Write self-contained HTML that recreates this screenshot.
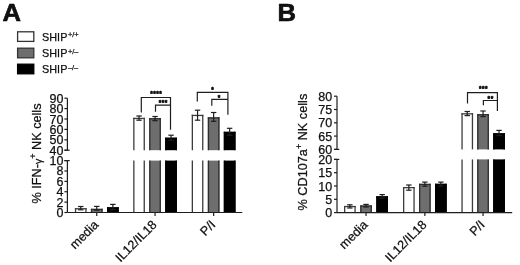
<!DOCTYPE html>
<html><head><meta charset="utf-8"><title>SHIP NK cells figure</title>
<style>
html,body{margin:0;padding:0;background:#fff;}
body{width:520px;height:265px;overflow:hidden;}
svg{display:block;}
svg text{font-family:"Liberation Sans", Arial, sans-serif;fill:#111;stroke:#111;stroke-width:0.25px;}
</style></head>
<body>
<svg width="520" height="265" viewBox="0 0 520 265">
<rect x="0" y="0" width="520" height="265" fill="#fff"/>
<text transform="translate(2.6,20.8) scale(1.05,1)" font-size="24.4" font-weight="bold" style="stroke:#000;stroke-width:0.6px;stroke-linejoin:round">A</text>
<text transform="translate(277.6,20.8) scale(1.05,1)" font-size="24.4" font-weight="bold" style="stroke:#000;stroke-width:0.6px;stroke-linejoin:round">B</text>
<rect x="17.6" y="31.8" width="16.2" height="9.6" fill="#ffffff" stroke="#333" stroke-width="1.3"/>
<text x="41.9" y="40.9" font-size="10.8" letter-spacing="0.1">SHIP<tspan font-size="7.4" dx="0.4" dy="-3.6" letter-spacing="0">+/+</tspan></text>
<rect x="17.6" y="48.2" width="16.2" height="9.6" fill="#6e6e6e" stroke="#333" stroke-width="1.3"/>
<text x="41.9" y="57.3" font-size="10.8" letter-spacing="0.1">SHIP<tspan font-size="7.4" dx="0.4" dy="-3.6" letter-spacing="0">+/&#8211;</tspan></text>
<rect x="17.6" y="64.2" width="16.2" height="9.6" fill="#000000" stroke="#000" stroke-width="1.3"/>
<text x="41.9" y="73.3" font-size="10.8" letter-spacing="0.1">SHIP<tspan font-size="7.4" dx="0.4" dy="-3.6" letter-spacing="0">&#8211;/&#8211;</tspan></text>
<line x1="67.4" y1="98.2" x2="67.4" y2="150.2" stroke="#1e1e1e" stroke-width="1.2"/>
<line x1="67.4" y1="160.6" x2="67.4" y2="212.5" stroke="#1e1e1e" stroke-width="1.2"/>
<line x1="64.4" y1="98.2" x2="67.4" y2="98.2" stroke="#1e1e1e" stroke-width="1.2"/>
<text x="63.4" y="102.7" font-size="12.5" text-anchor="end">90</text>
<line x1="64.4" y1="108.6" x2="67.4" y2="108.6" stroke="#1e1e1e" stroke-width="1.2"/>
<text x="63.4" y="113.1" font-size="12.5" text-anchor="end">80</text>
<line x1="64.4" y1="119" x2="67.4" y2="119" stroke="#1e1e1e" stroke-width="1.2"/>
<text x="63.4" y="123.5" font-size="12.5" text-anchor="end">70</text>
<line x1="64.4" y1="129.4" x2="67.4" y2="129.4" stroke="#1e1e1e" stroke-width="1.2"/>
<text x="63.4" y="133.9" font-size="12.5" text-anchor="end">60</text>
<line x1="64.4" y1="139.8" x2="67.4" y2="139.8" stroke="#1e1e1e" stroke-width="1.2"/>
<text x="63.4" y="144.3" font-size="12.5" text-anchor="end">50</text>
<line x1="64.4" y1="150.2" x2="67.4" y2="150.2" stroke="#1e1e1e" stroke-width="1.2"/>
<text x="63.4" y="154.7" font-size="12.5" text-anchor="end">40</text>
<line x1="64.4" y1="160.6" x2="67.4" y2="160.6" stroke="#1e1e1e" stroke-width="1.2"/>
<text x="63.4" y="165.1" font-size="12.5" text-anchor="end">10</text>
<line x1="64.4" y1="170.98" x2="67.4" y2="170.98" stroke="#1e1e1e" stroke-width="1.2"/>
<text x="63.4" y="175.48" font-size="12.5" text-anchor="end">8</text>
<line x1="64.4" y1="181.36" x2="67.4" y2="181.36" stroke="#1e1e1e" stroke-width="1.2"/>
<text x="63.4" y="185.86" font-size="12.5" text-anchor="end">6</text>
<line x1="64.4" y1="191.74" x2="67.4" y2="191.74" stroke="#1e1e1e" stroke-width="1.2"/>
<text x="63.4" y="196.24" font-size="12.5" text-anchor="end">4</text>
<line x1="64.4" y1="202.12" x2="67.4" y2="202.12" stroke="#1e1e1e" stroke-width="1.2"/>
<text x="63.4" y="206.62" font-size="12.5" text-anchor="end">2</text>
<line x1="64.4" y1="212.5" x2="67.4" y2="212.5" stroke="#1e1e1e" stroke-width="1.2"/>
<text x="63.4" y="217" font-size="12.5" text-anchor="end">0</text>
<line x1="64.4" y1="150.2" x2="69.7" y2="150.2" stroke="#1e1e1e" stroke-width="1.2"/>
<line x1="64.4" y1="160.6" x2="69.7" y2="160.6" stroke="#1e1e1e" stroke-width="1.2"/>
<rect x="74.9" y="208.1" width="11.7" height="4.4" fill="#ffffff"/>
<line x1="75.55" y1="208.1" x2="75.55" y2="212.5" stroke="#3c3c3c" stroke-width="1.3"/>
<line x1="85.95" y1="208.1" x2="85.95" y2="212.5" stroke="#3c3c3c" stroke-width="1.3"/>
<line x1="74.9" y1="208.75" x2="86.6" y2="208.75" stroke="#3c3c3c" stroke-width="1.3"/>
<rect x="90.9" y="208.8" width="11.7" height="3.7" fill="#6e6e6e"/>
<line x1="91.55" y1="208.8" x2="91.55" y2="212.5" stroke="#2e2e2e" stroke-width="1.3"/>
<line x1="101.95" y1="208.8" x2="101.95" y2="212.5" stroke="#2e2e2e" stroke-width="1.3"/>
<line x1="90.9" y1="209.45" x2="102.6" y2="209.45" stroke="#2e2e2e" stroke-width="1.3"/>
<rect x="107" y="207.3" width="11.7" height="5.2" fill="#000000"/>
<line x1="107.65" y1="207.3" x2="107.65" y2="212.5" stroke="#000" stroke-width="1.3"/>
<line x1="118.05" y1="207.3" x2="118.05" y2="212.5" stroke="#000" stroke-width="1.3"/>
<line x1="107" y1="207.95" x2="118.7" y2="207.95" stroke="#000" stroke-width="1.3"/>
<line x1="80.75" y1="206.5" x2="80.75" y2="209.8" stroke="#1e1e1e" stroke-width="1.2"/>
<line x1="78.05" y1="206.5" x2="83.45" y2="206.5" stroke="#1e1e1e" stroke-width="1.2"/>
<line x1="78.05" y1="209.8" x2="83.45" y2="209.8" stroke="#1e1e1e" stroke-width="1.2"/>
<line x1="96.75" y1="206.4" x2="96.75" y2="210.2" stroke="#1e1e1e" stroke-width="1.2"/>
<line x1="94.05" y1="206.4" x2="99.45" y2="206.4" stroke="#1e1e1e" stroke-width="1.2"/>
<line x1="94.05" y1="210.2" x2="99.45" y2="210.2" stroke="#1e1e1e" stroke-width="1.2"/>
<line x1="112.85" y1="204.4" x2="112.85" y2="209.6" stroke="#1e1e1e" stroke-width="1.2"/>
<line x1="110.15" y1="204.4" x2="115.55" y2="204.4" stroke="#1e1e1e" stroke-width="1.2"/>
<line x1="110.15" y1="209.6" x2="115.55" y2="209.6" stroke="#1e1e1e" stroke-width="1.2"/>
<line x1="96.75" y1="212.5" x2="96.75" y2="216" stroke="#1e1e1e" stroke-width="1.2"/>
<rect x="133.2" y="117.8" width="11.7" height="32.4" fill="#ffffff"/>
<line x1="133.85" y1="117.8" x2="133.85" y2="150.2" stroke="#3c3c3c" stroke-width="1.3"/>
<line x1="144.25" y1="117.8" x2="144.25" y2="150.2" stroke="#3c3c3c" stroke-width="1.3"/>
<rect x="133.2" y="160.6" width="11.7" height="51.9" fill="#ffffff"/>
<line x1="133.85" y1="160.6" x2="133.85" y2="212.5" stroke="#3c3c3c" stroke-width="1.3"/>
<line x1="144.25" y1="160.6" x2="144.25" y2="212.5" stroke="#3c3c3c" stroke-width="1.3"/>
<line x1="133.2" y1="118.45" x2="144.9" y2="118.45" stroke="#3c3c3c" stroke-width="1.3"/>
<rect x="149.2" y="118.1" width="11.7" height="32.1" fill="#6e6e6e"/>
<line x1="149.85" y1="118.1" x2="149.85" y2="150.2" stroke="#2e2e2e" stroke-width="1.3"/>
<line x1="160.25" y1="118.1" x2="160.25" y2="150.2" stroke="#2e2e2e" stroke-width="1.3"/>
<rect x="149.2" y="160.6" width="11.7" height="51.9" fill="#6e6e6e"/>
<line x1="149.85" y1="160.6" x2="149.85" y2="212.5" stroke="#2e2e2e" stroke-width="1.3"/>
<line x1="160.25" y1="160.6" x2="160.25" y2="212.5" stroke="#2e2e2e" stroke-width="1.3"/>
<line x1="149.2" y1="118.75" x2="160.9" y2="118.75" stroke="#2e2e2e" stroke-width="1.3"/>
<rect x="165.2" y="137.7" width="11.7" height="12.5" fill="#000000"/>
<line x1="165.85" y1="137.7" x2="165.85" y2="150.2" stroke="#000" stroke-width="1.3"/>
<line x1="176.25" y1="137.7" x2="176.25" y2="150.2" stroke="#000" stroke-width="1.3"/>
<rect x="165.2" y="160.6" width="11.7" height="51.9" fill="#000000"/>
<line x1="165.85" y1="160.6" x2="165.85" y2="212.5" stroke="#000" stroke-width="1.3"/>
<line x1="176.25" y1="160.6" x2="176.25" y2="212.5" stroke="#000" stroke-width="1.3"/>
<line x1="165.2" y1="138.35" x2="176.9" y2="138.35" stroke="#000" stroke-width="1.3"/>
<line x1="139.05" y1="116" x2="139.05" y2="120.2" stroke="#1e1e1e" stroke-width="1.2"/>
<line x1="136.35" y1="116" x2="141.75" y2="116" stroke="#1e1e1e" stroke-width="1.2"/>
<line x1="136.35" y1="120.2" x2="141.75" y2="120.2" stroke="#1e1e1e" stroke-width="1.2"/>
<line x1="155.05" y1="116.5" x2="155.05" y2="120.7" stroke="#1e1e1e" stroke-width="1.2"/>
<line x1="152.35" y1="116.5" x2="157.75" y2="116.5" stroke="#1e1e1e" stroke-width="1.2"/>
<line x1="152.35" y1="120.7" x2="157.75" y2="120.7" stroke="#1e1e1e" stroke-width="1.2"/>
<line x1="171.05" y1="135.2" x2="171.05" y2="140.2" stroke="#1e1e1e" stroke-width="1.2"/>
<line x1="168.35" y1="135.2" x2="173.75" y2="135.2" stroke="#1e1e1e" stroke-width="1.2"/>
<line x1="168.35" y1="140.2" x2="173.75" y2="140.2" stroke="#1e1e1e" stroke-width="1.2"/>
<line x1="155.05" y1="212.5" x2="155.05" y2="216" stroke="#1e1e1e" stroke-width="1.2"/>
<rect x="191.7" y="114.8" width="11.7" height="35.4" fill="#ffffff"/>
<line x1="192.35" y1="114.8" x2="192.35" y2="150.2" stroke="#3c3c3c" stroke-width="1.3"/>
<line x1="202.75" y1="114.8" x2="202.75" y2="150.2" stroke="#3c3c3c" stroke-width="1.3"/>
<rect x="191.7" y="160.6" width="11.7" height="51.9" fill="#ffffff"/>
<line x1="192.35" y1="160.6" x2="192.35" y2="212.5" stroke="#3c3c3c" stroke-width="1.3"/>
<line x1="202.75" y1="160.6" x2="202.75" y2="212.5" stroke="#3c3c3c" stroke-width="1.3"/>
<line x1="191.7" y1="115.45" x2="203.4" y2="115.45" stroke="#3c3c3c" stroke-width="1.3"/>
<rect x="207.8" y="117.3" width="11.7" height="32.9" fill="#6e6e6e"/>
<line x1="208.45" y1="117.3" x2="208.45" y2="150.2" stroke="#2e2e2e" stroke-width="1.3"/>
<line x1="218.85" y1="117.3" x2="218.85" y2="150.2" stroke="#2e2e2e" stroke-width="1.3"/>
<rect x="207.8" y="160.6" width="11.7" height="51.9" fill="#6e6e6e"/>
<line x1="208.45" y1="160.6" x2="208.45" y2="212.5" stroke="#2e2e2e" stroke-width="1.3"/>
<line x1="218.85" y1="160.6" x2="218.85" y2="212.5" stroke="#2e2e2e" stroke-width="1.3"/>
<line x1="207.8" y1="117.95" x2="219.5" y2="117.95" stroke="#2e2e2e" stroke-width="1.3"/>
<rect x="223.8" y="131.8" width="11.7" height="18.4" fill="#000000"/>
<line x1="224.45" y1="131.8" x2="224.45" y2="150.2" stroke="#000" stroke-width="1.3"/>
<line x1="234.85" y1="131.8" x2="234.85" y2="150.2" stroke="#000" stroke-width="1.3"/>
<rect x="223.8" y="160.6" width="11.7" height="51.9" fill="#000000"/>
<line x1="224.45" y1="160.6" x2="224.45" y2="212.5" stroke="#000" stroke-width="1.3"/>
<line x1="234.85" y1="160.6" x2="234.85" y2="212.5" stroke="#000" stroke-width="1.3"/>
<line x1="223.8" y1="132.45" x2="235.5" y2="132.45" stroke="#000" stroke-width="1.3"/>
<line x1="197.55" y1="110.2" x2="197.55" y2="120.2" stroke="#1e1e1e" stroke-width="1.2"/>
<line x1="194.85" y1="110.2" x2="200.25" y2="110.2" stroke="#1e1e1e" stroke-width="1.2"/>
<line x1="194.85" y1="120.2" x2="200.25" y2="120.2" stroke="#1e1e1e" stroke-width="1.2"/>
<line x1="213.65" y1="112.5" x2="213.65" y2="121.3" stroke="#1e1e1e" stroke-width="1.2"/>
<line x1="210.95" y1="112.5" x2="216.35" y2="112.5" stroke="#1e1e1e" stroke-width="1.2"/>
<line x1="210.95" y1="121.3" x2="216.35" y2="121.3" stroke="#1e1e1e" stroke-width="1.2"/>
<line x1="229.65" y1="128.3" x2="229.65" y2="135.3" stroke="#1e1e1e" stroke-width="1.2"/>
<line x1="226.95" y1="128.3" x2="232.35" y2="128.3" stroke="#1e1e1e" stroke-width="1.2"/>
<line x1="226.95" y1="135.3" x2="232.35" y2="135.3" stroke="#1e1e1e" stroke-width="1.2"/>
<line x1="213.65" y1="212.5" x2="213.65" y2="216" stroke="#1e1e1e" stroke-width="1.2"/>
<line x1="67.4" y1="212.5" x2="242.3" y2="212.5" stroke="#1e1e1e" stroke-width="1.2"/>
<polyline points="141.3,112.6 141.3,97.5 170.5,97.5 170.5,129.8" fill="none" stroke="#1e1e1e" stroke-width="1.2"/>
<polyline points="155.5,111.8 155.5,105.2 170.5,105.2 170.5,105.2" fill="none" stroke="#1e1e1e" stroke-width="1.2"/>
<polyline points="197.3,101.5 197.3,92.4 227.9,92.4 227.9,114.8" fill="none" stroke="#1e1e1e" stroke-width="1.2"/>
<polyline points="211.8,105.8 211.8,99.4 227.9,99.4 227.9,99.4" fill="none" stroke="#1e1e1e" stroke-width="1.2"/>
<text x="156.25" y="95.6" font-size="6.5" text-anchor="middle" font-weight="bold" style="stroke:#111;stroke-width:0.6px;stroke-linejoin:round" letter-spacing="0.5">****</text>
<text x="163.25" y="105.4" font-size="6.5" text-anchor="middle" font-weight="bold" style="stroke:#111;stroke-width:0.6px;stroke-linejoin:round" letter-spacing="0.5">***</text>
<text x="212.75" y="92.1" font-size="6.5" text-anchor="middle" font-weight="bold" style="stroke:#111;stroke-width:0.6px;stroke-linejoin:round" letter-spacing="0.5">*</text>
<text x="219.25" y="100.2" font-size="6.5" text-anchor="middle" font-weight="bold" style="stroke:#111;stroke-width:0.6px;stroke-linejoin:round" letter-spacing="0.5">*</text>
<text transform="translate(40.7,153.5) rotate(-90)" font-size="12.7" text-anchor="middle">% IFN-<tspan font-size="10.5" dy="0.9">&#947;</tspan><tspan font-size="9" dy="-5.5">+</tspan><tspan dy="4.6"> NK cells</tspan></text>
<text transform="translate(99.25,225.5) rotate(-45)" font-size="12.6" text-anchor="end">media</text>
<text transform="translate(157.55,225.5) rotate(-45)" font-size="12.6" text-anchor="end">IL12/IL18</text>
<text transform="translate(216.15,225.5) rotate(-45)" font-size="12.6" text-anchor="end">P/I</text>
<line x1="337" y1="96.2" x2="337" y2="149.4" stroke="#1e1e1e" stroke-width="1.2"/>
<line x1="337" y1="159.4" x2="337" y2="212.6" stroke="#1e1e1e" stroke-width="1.2"/>
<line x1="334" y1="96.2" x2="337" y2="96.2" stroke="#1e1e1e" stroke-width="1.2"/>
<text x="332.2" y="100.7" font-size="12.5" text-anchor="end">80</text>
<line x1="334" y1="109.5" x2="337" y2="109.5" stroke="#1e1e1e" stroke-width="1.2"/>
<text x="332.2" y="114" font-size="12.5" text-anchor="end">75</text>
<line x1="334" y1="122.8" x2="337" y2="122.8" stroke="#1e1e1e" stroke-width="1.2"/>
<text x="332.2" y="127.3" font-size="12.5" text-anchor="end">70</text>
<line x1="334" y1="136.1" x2="337" y2="136.1" stroke="#1e1e1e" stroke-width="1.2"/>
<text x="332.2" y="140.6" font-size="12.5" text-anchor="end">65</text>
<line x1="334" y1="149.4" x2="337" y2="149.4" stroke="#1e1e1e" stroke-width="1.2"/>
<text x="332.2" y="153.9" font-size="12.5" text-anchor="end">60</text>
<line x1="334" y1="159.4" x2="337" y2="159.4" stroke="#1e1e1e" stroke-width="1.2"/>
<text x="332.2" y="163.9" font-size="12.5" text-anchor="end">20</text>
<line x1="334" y1="172.7" x2="337" y2="172.7" stroke="#1e1e1e" stroke-width="1.2"/>
<text x="332.2" y="177.2" font-size="12.5" text-anchor="end">15</text>
<line x1="334" y1="186" x2="337" y2="186" stroke="#1e1e1e" stroke-width="1.2"/>
<text x="332.2" y="190.5" font-size="12.5" text-anchor="end">10</text>
<line x1="334" y1="199.3" x2="337" y2="199.3" stroke="#1e1e1e" stroke-width="1.2"/>
<text x="332.2" y="203.8" font-size="12.5" text-anchor="end">5</text>
<line x1="334" y1="212.6" x2="337" y2="212.6" stroke="#1e1e1e" stroke-width="1.2"/>
<text x="332.2" y="217.1" font-size="12.5" text-anchor="end">0</text>
<line x1="334" y1="149.4" x2="339.3" y2="149.4" stroke="#1e1e1e" stroke-width="1.2"/>
<line x1="334" y1="159.4" x2="339.3" y2="159.4" stroke="#1e1e1e" stroke-width="1.2"/>
<rect x="344" y="205.9" width="11.7" height="6.7" fill="#ffffff"/>
<line x1="344.65" y1="205.9" x2="344.65" y2="212.6" stroke="#3c3c3c" stroke-width="1.3"/>
<line x1="355.05" y1="205.9" x2="355.05" y2="212.6" stroke="#3c3c3c" stroke-width="1.3"/>
<line x1="344" y1="206.55" x2="355.7" y2="206.55" stroke="#3c3c3c" stroke-width="1.3"/>
<rect x="360.2" y="205.4" width="11.7" height="7.2" fill="#6e6e6e"/>
<line x1="360.85" y1="205.4" x2="360.85" y2="212.6" stroke="#2e2e2e" stroke-width="1.3"/>
<line x1="371.25" y1="205.4" x2="371.25" y2="212.6" stroke="#2e2e2e" stroke-width="1.3"/>
<line x1="360.2" y1="206.05" x2="371.9" y2="206.05" stroke="#2e2e2e" stroke-width="1.3"/>
<rect x="376.3" y="196.3" width="11.7" height="16.3" fill="#000000"/>
<line x1="376.95" y1="196.3" x2="376.95" y2="212.6" stroke="#000" stroke-width="1.3"/>
<line x1="387.35" y1="196.3" x2="387.35" y2="212.6" stroke="#000" stroke-width="1.3"/>
<line x1="376.3" y1="196.95" x2="388" y2="196.95" stroke="#000" stroke-width="1.3"/>
<line x1="349.85" y1="204.8" x2="349.85" y2="208" stroke="#1e1e1e" stroke-width="1.2"/>
<line x1="347.15" y1="204.8" x2="352.55" y2="204.8" stroke="#1e1e1e" stroke-width="1.2"/>
<line x1="347.15" y1="208" x2="352.55" y2="208" stroke="#1e1e1e" stroke-width="1.2"/>
<line x1="366.05" y1="204.4" x2="366.05" y2="207" stroke="#1e1e1e" stroke-width="1.2"/>
<line x1="363.35" y1="204.4" x2="368.75" y2="204.4" stroke="#1e1e1e" stroke-width="1.2"/>
<line x1="363.35" y1="207" x2="368.75" y2="207" stroke="#1e1e1e" stroke-width="1.2"/>
<line x1="382.15" y1="194.6" x2="382.15" y2="198.2" stroke="#1e1e1e" stroke-width="1.2"/>
<line x1="379.45" y1="194.6" x2="384.85" y2="194.6" stroke="#1e1e1e" stroke-width="1.2"/>
<line x1="379.45" y1="198.2" x2="384.85" y2="198.2" stroke="#1e1e1e" stroke-width="1.2"/>
<line x1="366.05" y1="212.6" x2="366.05" y2="216" stroke="#1e1e1e" stroke-width="1.2"/>
<rect x="403" y="187" width="11.7" height="25.6" fill="#ffffff"/>
<line x1="403.65" y1="187" x2="403.65" y2="212.6" stroke="#3c3c3c" stroke-width="1.3"/>
<line x1="414.05" y1="187" x2="414.05" y2="212.6" stroke="#3c3c3c" stroke-width="1.3"/>
<line x1="403" y1="187.65" x2="414.7" y2="187.65" stroke="#3c3c3c" stroke-width="1.3"/>
<rect x="419" y="183.8" width="11.7" height="28.8" fill="#6e6e6e"/>
<line x1="419.65" y1="183.8" x2="419.65" y2="212.6" stroke="#2e2e2e" stroke-width="1.3"/>
<line x1="430.05" y1="183.8" x2="430.05" y2="212.6" stroke="#2e2e2e" stroke-width="1.3"/>
<line x1="419" y1="184.45" x2="430.7" y2="184.45" stroke="#2e2e2e" stroke-width="1.3"/>
<rect x="435" y="183.8" width="11.7" height="28.8" fill="#000000"/>
<line x1="435.65" y1="183.8" x2="435.65" y2="212.6" stroke="#000" stroke-width="1.3"/>
<line x1="446.05" y1="183.8" x2="446.05" y2="212.6" stroke="#000" stroke-width="1.3"/>
<line x1="435" y1="184.45" x2="446.7" y2="184.45" stroke="#000" stroke-width="1.3"/>
<line x1="408.85" y1="185" x2="408.85" y2="190.2" stroke="#1e1e1e" stroke-width="1.2"/>
<line x1="406.15" y1="185" x2="411.55" y2="185" stroke="#1e1e1e" stroke-width="1.2"/>
<line x1="406.15" y1="190.2" x2="411.55" y2="190.2" stroke="#1e1e1e" stroke-width="1.2"/>
<line x1="424.85" y1="182.1" x2="424.85" y2="186.2" stroke="#1e1e1e" stroke-width="1.2"/>
<line x1="422.15" y1="182.1" x2="427.55" y2="182.1" stroke="#1e1e1e" stroke-width="1.2"/>
<line x1="422.15" y1="186.2" x2="427.55" y2="186.2" stroke="#1e1e1e" stroke-width="1.2"/>
<line x1="440.85" y1="182.1" x2="440.85" y2="186" stroke="#1e1e1e" stroke-width="1.2"/>
<line x1="438.15" y1="182.1" x2="443.55" y2="182.1" stroke="#1e1e1e" stroke-width="1.2"/>
<line x1="438.15" y1="186" x2="443.55" y2="186" stroke="#1e1e1e" stroke-width="1.2"/>
<line x1="424.85" y1="212.6" x2="424.85" y2="216" stroke="#1e1e1e" stroke-width="1.2"/>
<rect x="461.4" y="113.2" width="11.7" height="36.2" fill="#ffffff"/>
<line x1="462.05" y1="113.2" x2="462.05" y2="149.4" stroke="#3c3c3c" stroke-width="1.3"/>
<line x1="472.45" y1="113.2" x2="472.45" y2="149.4" stroke="#3c3c3c" stroke-width="1.3"/>
<rect x="461.4" y="159.4" width="11.7" height="53.2" fill="#ffffff"/>
<line x1="462.05" y1="159.4" x2="462.05" y2="212.6" stroke="#3c3c3c" stroke-width="1.3"/>
<line x1="472.45" y1="159.4" x2="472.45" y2="212.6" stroke="#3c3c3c" stroke-width="1.3"/>
<line x1="461.4" y1="113.85" x2="473.1" y2="113.85" stroke="#3c3c3c" stroke-width="1.3"/>
<rect x="477.2" y="114.1" width="11.7" height="35.3" fill="#6e6e6e"/>
<line x1="477.85" y1="114.1" x2="477.85" y2="149.4" stroke="#2e2e2e" stroke-width="1.3"/>
<line x1="488.25" y1="114.1" x2="488.25" y2="149.4" stroke="#2e2e2e" stroke-width="1.3"/>
<rect x="477.2" y="159.4" width="11.7" height="53.2" fill="#6e6e6e"/>
<line x1="477.85" y1="159.4" x2="477.85" y2="212.6" stroke="#2e2e2e" stroke-width="1.3"/>
<line x1="488.25" y1="159.4" x2="488.25" y2="212.6" stroke="#2e2e2e" stroke-width="1.3"/>
<line x1="477.2" y1="114.75" x2="488.9" y2="114.75" stroke="#2e2e2e" stroke-width="1.3"/>
<rect x="493.2" y="133.3" width="11.7" height="16.1" fill="#000000"/>
<line x1="493.85" y1="133.3" x2="493.85" y2="149.4" stroke="#000" stroke-width="1.3"/>
<line x1="504.25" y1="133.3" x2="504.25" y2="149.4" stroke="#000" stroke-width="1.3"/>
<rect x="493.2" y="159.4" width="11.7" height="53.2" fill="#000000"/>
<line x1="493.85" y1="159.4" x2="493.85" y2="212.6" stroke="#000" stroke-width="1.3"/>
<line x1="504.25" y1="159.4" x2="504.25" y2="212.6" stroke="#000" stroke-width="1.3"/>
<line x1="493.2" y1="133.95" x2="504.9" y2="133.95" stroke="#000" stroke-width="1.3"/>
<line x1="467.25" y1="111.5" x2="467.25" y2="115.6" stroke="#1e1e1e" stroke-width="1.2"/>
<line x1="464.55" y1="111.5" x2="469.95" y2="111.5" stroke="#1e1e1e" stroke-width="1.2"/>
<line x1="464.55" y1="115.6" x2="469.95" y2="115.6" stroke="#1e1e1e" stroke-width="1.2"/>
<line x1="483.05" y1="111" x2="483.05" y2="116.6" stroke="#1e1e1e" stroke-width="1.2"/>
<line x1="480.35" y1="111" x2="485.75" y2="111" stroke="#1e1e1e" stroke-width="1.2"/>
<line x1="480.35" y1="116.6" x2="485.75" y2="116.6" stroke="#1e1e1e" stroke-width="1.2"/>
<line x1="499.05" y1="130.4" x2="499.05" y2="135.6" stroke="#1e1e1e" stroke-width="1.2"/>
<line x1="496.35" y1="130.4" x2="501.75" y2="130.4" stroke="#1e1e1e" stroke-width="1.2"/>
<line x1="496.35" y1="135.6" x2="501.75" y2="135.6" stroke="#1e1e1e" stroke-width="1.2"/>
<line x1="483.05" y1="212.6" x2="483.05" y2="216" stroke="#1e1e1e" stroke-width="1.2"/>
<line x1="337" y1="212.6" x2="512.2" y2="212.6" stroke="#1e1e1e" stroke-width="1.2"/>
<polyline points="467.5,103.6 467.5,92.7 497.4,92.7 497.4,111.0" fill="none" stroke="#1e1e1e" stroke-width="1.2"/>
<polyline points="483.4,105.2 483.4,100.5 497.4,100.5 497.4,100.5" fill="none" stroke="#1e1e1e" stroke-width="1.2"/>
<text x="483.55" y="91" font-size="6.5" text-anchor="middle" font-weight="bold" style="stroke:#111;stroke-width:0.6px;stroke-linejoin:round" letter-spacing="0.5">***</text>
<text x="490.65" y="101.3" font-size="6.5" text-anchor="middle" font-weight="bold" style="stroke:#111;stroke-width:0.6px;stroke-linejoin:round" letter-spacing="0.5">**</text>
<text transform="translate(306.6,152.1) rotate(-90)" font-size="12.7" text-anchor="middle">% CD107a<tspan font-size="9" dy="-4.6">+</tspan><tspan dy="4.6"> NK cells</tspan></text>
<text transform="translate(368.55,225.5) rotate(-45)" font-size="12.6" text-anchor="end">media</text>
<text transform="translate(427.35,225.5) rotate(-45)" font-size="12.6" text-anchor="end">IL12/IL18</text>
<text transform="translate(485.55,225.5) rotate(-45)" font-size="12.6" text-anchor="end">P/I</text>
</svg>
</body></html>
